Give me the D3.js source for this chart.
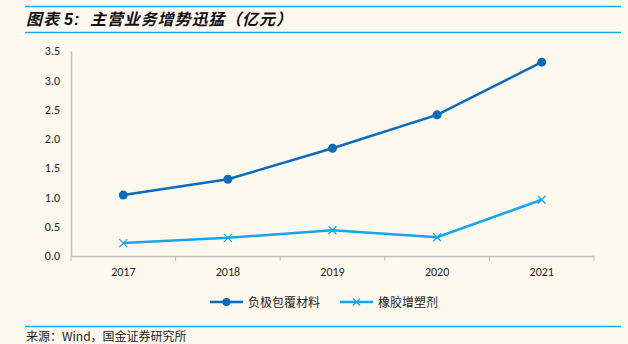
<!DOCTYPE html>
<html><head><meta charset="utf-8">
<script src="https://cdn.jsdelivr.net/npm/d3@7"></script>
<style>
html,body{margin:0;padding:0;background:#FDF9EF;}
svg{display:block;}
</style></head>
<body>
<svg id="c" width="628" height="344"></svg>
<script>
const categories = ["2017","2018","2019","2020","2021"];
const seriesNames = ["负极包覆材料","橡胶增塑剂"];
const anodeCoating = [1.04, 1.31, 1.84, 2.41, 3.31];
const rubberPlasticizer = [0.22, 0.31, 0.44, 0.32, 0.96];
const yTicks = [0,0.5,1.0,1.5,2.0,2.5,3.0,3.5];
const titleMain = "主营业务增势迅猛（亿元）";
const sourceText = "来源：Wind，国金证券研究所";

const svg = d3.select("#c");
const W = 628, H = 344;
svg.append("rect").attr("width",W).attr("height",H).attr("fill","#FDF9EF");

const ruleColor = "#1BA6E6";
svg.append("line").attr("x1",25).attr("x2",621).attr("y1",6.5).attr("y2",6.5).attr("stroke",ruleColor).attr("stroke-width",1.5);
svg.append("line").attr("x1",25).attr("x2",621).attr("y1",32.5).attr("y2",32.5).attr("stroke",ruleColor).attr("stroke-width",1.5);
svg.append("line").attr("x1",25).attr("x2",621).attr("y1",326.5).attr("y2",326.5).attr("stroke",ruleColor).attr("stroke-width",1.5);

const t = svg.append("text").attr("x",26).attr("y",25)
  .attr("font-family","'Noto Sans CJK SC', sans-serif").attr("font-size",16).attr("font-weight","bold")
  .attr("font-style","italic").attr("fill","#111");
t.append("tspan").attr("letter-spacing",1).text("图表");
t.append("tspan").attr("font-family","Arial, 'Liberation Sans', sans-serif").attr("dx",4).attr("letter-spacing",1).text("5:");
t.append("tspan").attr("x",90).attr("letter-spacing",0.9).text(titleMain);

svg.append("text").attr("x",26).attr("y",341)
  .attr("font-family","'Noto Sans CJK SC', sans-serif").attr("font-size",12).attr("fill","#222")
  .text(sourceText);

const x0 = 71, x1 = 594, yTop = 51, yBot = 256;
const x = d3.scaleBand().domain(categories).range([x0,x1]);
const y = d3.scaleLinear().domain([0,3.5]).range([yBot,yTop]);
const axisColor = "#BFBFBF";

const gy = svg.append("g").attr("transform",`translate(${x0},0)`)
  .call(d3.axisLeft(y).tickValues(yTicks).tickFormat(d3.format(".1f")).tickSize(0).tickPadding(11));
gy.select(".domain").attr("stroke",axisColor).attr("stroke-width",1.5);
gy.selectAll("text").attr("font-family","Calibri, Carlito, 'Liberation Sans', sans-serif").attr("font-size",12).attr("fill","#222");

const gx = svg.append("g").attr("transform",`translate(0,${yBot})`)
  .call(d3.axisBottom(x).tickSize(0).tickPadding(11));
gx.select(".domain").attr("stroke",axisColor).attr("stroke-width",1.5);
gx.selectAll("text").attr("font-family","Calibri, Carlito, 'Liberation Sans', sans-serif").attr("font-size",12).attr("fill","#222");
const bounds = categories.map(c=>x(c)).concat([x1]);
svg.append("g").selectAll("line").data(bounds).join("line")
  .attr("x1",d=>d).attr("x2",d=>d).attr("y1",yBot).attr("y2",yBot+5)
  .attr("stroke",axisColor).attr("stroke-width",1);

const cx = c => x(c) + x.bandwidth()/2;
const darkBlue = "#0A6BB8", lightBlue = "#15A5EA";
const line = d3.line().x((d,i)=>cx(categories[i])).y(d=>y(d));

svg.append("path").datum(anodeCoating).attr("d",line).attr("fill","none")
  .attr("stroke",darkBlue).attr("stroke-width",2.5);
svg.append("g").selectAll("circle").data(anodeCoating).join("circle")
  .attr("cx",(d,i)=>cx(categories[i])).attr("cy",d=>y(d)).attr("r",4.5).attr("fill",darkBlue);

svg.append("path").datum(rubberPlasticizer).attr("d",line).attr("fill","none")
  .attr("stroke",lightBlue).attr("stroke-width",2.5);
const s = 4;
svg.append("g").selectAll("path").data(rubberPlasticizer).join("path")
  .attr("d",(d,i)=>{const px=cx(categories[i]), py=y(d);
    return `M${px-s},${py-s}L${px+s},${py+s}M${px-s},${py+s}L${px+s},${py-s}`;})
  .attr("stroke",lightBlue).attr("stroke-width",1.2).attr("fill","none");

const ly = 302;
const lg = svg.append("g");
lg.append("line").attr("x1",210).attr("x2",243).attr("y1",ly).attr("y2",ly).attr("stroke",darkBlue).attr("stroke-width",2.5);
lg.append("circle").attr("cx",226.5).attr("cy",ly).attr("r",4).attr("fill",darkBlue);
lg.append("text").attr("x",248).attr("y",ly+4.5).attr("font-family","'Noto Sans CJK SC', sans-serif").attr("font-size",12).attr("fill","#222").text(seriesNames[0]);
lg.append("line").attr("x1",340).attr("x2",373).attr("y1",ly).attr("y2",ly).attr("stroke",lightBlue).attr("stroke-width",2.5);
lg.append("path").attr("d",`M${356.5-3.5},${ly-3.5}L${356.5+3.5},${ly+3.5}M${356.5-3.5},${ly+3.5}L${356.5+3.5},${ly-3.5}`).attr("stroke",lightBlue).attr("stroke-width",1.2);
lg.append("text").attr("x",378).attr("y",ly+4.5).attr("font-family","'Noto Sans CJK SC', sans-serif").attr("font-size",12).attr("fill","#222").text(seriesNames[1]);
</script>
</body></html>
